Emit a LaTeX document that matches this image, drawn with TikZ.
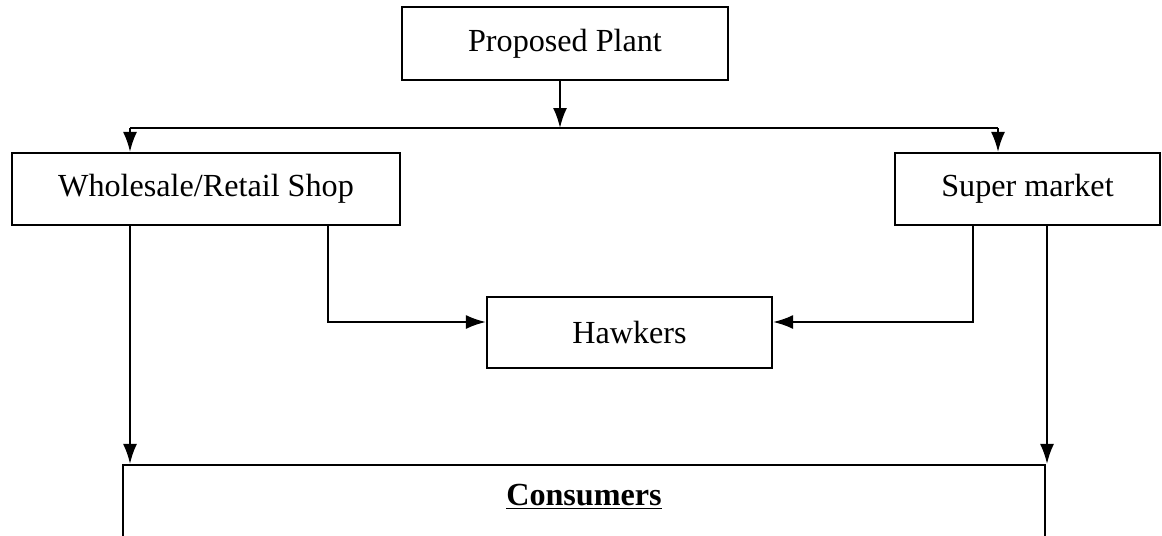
\documentclass[tikz,border=0pt]{standalone}
\usepackage{fontspec}
\setmainfont{Liberation Serif}
\usetikzlibrary{arrows.meta}
\tikzset{
	box/.style={draw, line width=1.2pt, inner sep=0pt, font=\fontsize{18.3}{22}\selectfont},
	flow/.style={line width=1.2pt, -{Latex[length=4mm,width=2.8mm]}}
}

\begin{document}
\begin{tikzpicture}
				\useasboundingbox (0,0) rectangle (23.24,-10.7);
				% nodes
				\node[box, minimum width=6.52cm, minimum height=1.46cm] (plant) at (11.3,-0.87) {Proposed Plant};
				\node[box, minimum width=7.76cm, minimum height=1.44cm] (shop) at (4.12,-3.78) {Wholesale/Retail Shop};
				\node[box, minimum width=5.3cm, minimum height=1.44cm] (market) at (20.55,-3.78) {Super market};
				\node[box, minimum width=5.7cm, minimum height=1.42cm] (hawkers) at (12.59,-6.65) {Hawkers};
				\node[box, minimum width=18.44cm, minimum height=1.5cm, text depth=0.3cm] (consumers) at (11.68,-10.05) {\textbf{\underline{Consumers}}};
				% branching points
				\coordinate (split) at (11.2,-2.56);
				\coordinate (shopL) at (2.6,-2.56);
				\coordinate (marketR) at (19.96,-2.56);
				\coordinate (shopH) at (6.56,-6.44);
				\coordinate (marketH) at (19.46,-6.44);
				% connectors
				\draw[flow] (plant.south -| split) -- (split);
				\draw[line width=1.2pt] (shopL) -- (marketR);
				\draw[flow] (shopL) -- (shopL |- shop.north);
				\draw[flow] (marketR) -- (marketR |- market.north);
				\draw[flow] (shop.south -| 2.6,0) -- (consumers.north -| 2.6,0);
				\draw[flow] (shop.south -| shopH) -- (shopH) -- (hawkers.west |- shopH);
				\draw[flow] (market.south -| marketH) -- (marketH) -- (hawkers.east |- marketH);
				\draw[flow] (market.south -| 20.94,0) -- (consumers.north -| 20.94,0);
			\end{tikzpicture}
\end{document}
